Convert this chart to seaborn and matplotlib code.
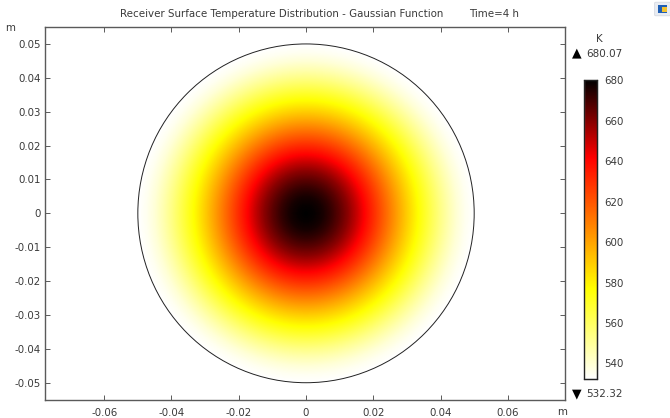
# plot.py - receiver surface temperature map
import numpy as np
import pandas as pd
import matplotlib
matplotlib.use("Agg")  # headless safe
import matplotlib.pyplot as plt
from matplotlib.colors import LinearSegmentedColormap
from matplotlib.patches import Circle, FancyBboxPatch, Rectangle
import seaborn as sns

# ---------------------------------------------------------------------
# Data
# ---------------------------------------------------------------------
RADIUS_M = [0.0, 0.0025, 0.005, 0.0075, 0.01, 0.0125, 0.015, 0.0175, 0.02, 0.0225, 0.025,
            0.0275, 0.03, 0.0325, 0.035, 0.0375, 0.04, 0.0425, 0.045, 0.0475, 0.05]
TEMP_K = [680.07, 679, 676.5, 672, 666, 659, 650.5, 641, 631, 620.5, 610,
          599.5, 589.5, 580, 571, 562, 553.5, 546, 539.5, 535, 532.32]
T_MIN = 532.32
T_MAX = 680.07
X_TICKS = [-0.06, -0.04, -0.02, 0, 0.02, 0.04, 0.06]
Y_TICKS = [-0.05, -0.04, -0.03, -0.02, -0.01, 0, 0.01, 0.02, 0.03, 0.04, 0.05]
CBAR_TICKS = [540, 560, 580, 600, 620, 640, 660, 680]

TITLE = "Receiver Surface Temperature Distribution - Gaussian Function"
TIME_LABEL = "Time=4 h"

W, H = 670, 418
TEXT = "#3a3a3a"
AXIS = "#5a5a5a"


def fx(px):
    return px / W


def fy(py):
    return 1 - py / H


def fig_axes(fig, left, top, right, bottom):
    return fig.add_axes([fx(left), fy(bottom), (right - left) / W, (bottom - top) / H])


def put(fig, px, py, s, ha="left", size=7.35, color=TEXT):
    fig.text(fx(px), fy(py), s, ha=ha, va="center", fontsize=size, color=color)


# ---------------------------------------------------------------------
# Figure
# ---------------------------------------------------------------------
sns.set_style("white")
plt.rcParams["font.family"] = ["DejaVu Sans"]

fig = plt.figure(figsize=(W / 100, H / 100), dpi=100)

xlim = (-0.0776, 0.0770)
ylim = (-0.0551, 0.0550)
box = (45, 27, 565, 400)

# one heatmap cell per pixel, filled from the radial profile
nx, ny = box[2] - box[0], box[3] - box[1]
dx = (xlim[1] - xlim[0]) / nx
dy = (ylim[1] - ylim[0]) / ny
xs = xlim[0] + dx * (np.arange(nx) + 0.5)
ys = ylim[1] - dy * (np.arange(ny) + 0.5)
rr = np.hypot(*np.meshgrid(xs, ys))
field = pd.DataFrame(np.interp(rr, RADIUS_M, TEMP_K), index=ys, columns=xs)

cmap = LinearSegmentedColormap.from_list(
    "thermal_light",
    [(0.0, "#ffffff"), (0.30, "#ffff00"), (0.74, "#ff0000"), (1.0, "#000000")],
    N=512,
)

hm_ax = fig_axes(fig, *box)
cax = fig_axes(fig, 584, 80, 597, 379)
sns.heatmap(
    field, ax=hm_ax, cbar_ax=cax, mask=rr > RADIUS_M[-1], cmap=cmap,
    vmin=T_MIN, vmax=T_MAX, xticklabels=False, yticklabels=False,
    cbar_kws={"ticks": CBAR_TICKS},
)
hm_ax.set_axis_off()

# data-space axes on top: frame, ticks and the receiver outline
ax = fig_axes(fig, *box)
ax.patch.set_alpha(0)
ax.set_xlim(*xlim)
ax.set_ylim(*ylim)
ax.add_patch(Circle((0, 0), RADIUS_M[-1], fill=False, ec="#222222", lw=0.7))
ax.set_xticks(X_TICKS, labels=[f"{v:g}" for v in X_TICKS])
ax.set_yticks(Y_TICKS, labels=[f"{v:g}" for v in Y_TICKS])
ax.tick_params(
    direction="in", length=3.7, width=0.7, color=AXIS, labelcolor=TEXT,
    labelsize=7.35, top=True, right=True, bottom=True, left=True, pad=3,
)
ax.tick_params(axis="x", pad=6)
for side in ax.spines.values():
    side.set_visible(True)
    side.set_color(AXIS)
    side.set_linewidth(1.0)

# colorbar
cax.tick_params(
    direction="in", length=2.2, width=0.7, color="#222222", labelcolor=TEXT,
    labelsize=7.35, left=True, right=True, pad=5,
)
cax.yaxis.set_ticks_position("both")
cax.yaxis.set_label_position("right")
cax.tick_params(labelleft=False, labelright=True)
for side in cax.spines.values():
    side.set_visible(True)
    side.set_color("#222222")
    side.set_linewidth(0.9)
cax.spines["left"].set_color("#777777")

# texts
put(fig, 120.5, 14, TITLE)
put(fig, 469.5, 14, TIME_LABEL)
put(fig, 10, 28, "m", ha="center")
put(fig, 562, 412, "m", ha="center")
put(fig, 599.5, 39, "K", ha="center")
put(fig, 577, 53, "▲", ha="center", size=9, color="#000000")
put(fig, 586, 54, f"{T_MAX:.2f}", size=7.5)
put(fig, 577, 394, "▼", ha="center", size=9, color="#000000")
put(fig, 586, 394, f"{T_MIN:.2f}", size=7.5)

# small app icon in the corner
fig.add_artist(FancyBboxPatch(
    (fx(656), fy(15)), 13 / W, 12 / H, boxstyle="round,pad=0.002",
    transform=fig.transFigure, fc="#e8ecf2", ec="#d0d5dd", lw=0.5,
))
fig.add_artist(Rectangle((fx(658), fy(13)), 9 / W, 8 / H, transform=fig.transFigure, fc="#1f5fb4", ec="none"))
fig.add_artist(Rectangle((fx(662), fy(12)), 5 / W, 5 / H, transform=fig.transFigure, fc="#f2c230", ec="none"))

fig.savefig("out.png", dpi=100)
